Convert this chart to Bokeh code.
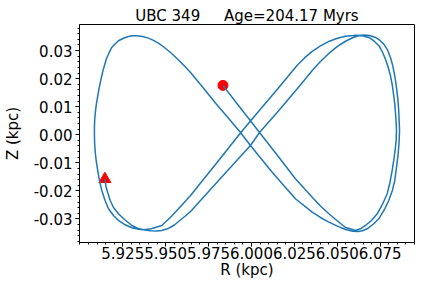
from bokeh.plotting import figure
from bokeh.models import FixedTicker, CustomJSTickFormatter, Range1d
from bokeh.embed import file_html
from bokeh.resources import INLINE

# Orbit path (R, Z in kpc), traced from the triangle (start) to the circle (end)
R = [5.9146, 5.9152, 5.9164, 5.9177, 5.9196, 5.9225, 5.9260, 5.9303, 5.9336, 5.9371,
     5.9411, 5.9446, 5.9477, 5.9516, 5.9551, 5.9586, 5.9615, 5.9645,
     5.9819, 5.9994, 6.0047, 6.0157, 6.0268, 6.0309, 6.0354, 6.0402, 6.0451, 6.0501,
     6.0548, 6.0589, 6.0624, 6.0654, 6.0688, 6.0723, 6.0749, 6.0771, 6.0793, 6.0810,
     6.0823, 6.0835, 6.0845, 6.0853, 6.0858, 6.0861, 6.0863, 6.0860, 6.0854, 6.0845,
     6.0835, 6.0821, 6.0800, 6.0775, 6.0742, 6.0711, 6.0674, 6.0647, 6.0624, 6.0589,
     6.0548, 6.0501, 6.0451, 6.0402, 6.0354, 6.0256,
     6.0122, 5.9994, 5.9936, 5.9860, 5.9790, 5.9715, 5.9645,
     5.9610, 5.9575, 5.9546, 5.9516, 5.9487, 5.9458, 5.9429, 5.9400, 5.9365, 5.9332,
     5.9307, 5.9283, 5.9254, 5.9225, 5.9205, 5.9186, 5.9170, 5.9155, 5.9145, 5.9135,
     5.9127, 5.9118, 5.9110, 5.9103, 5.9096, 5.9091, 5.9087, 5.9085, 5.9085, 5.9086,
     5.9089, 5.9095, 5.9104, 5.9114, 5.9128, 5.9147, 5.9167, 5.9196, 5.9225, 5.9264,
     5.9303, 5.9342, 5.9371,
     5.9417, 5.9477, 5.9526, 5.9575, 5.9645, 5.9790, 5.9936, 5.9994, 6.0140, 6.0268,
     6.0309, 6.0354, 6.0402, 6.0451, 6.0501, 6.0548, 6.0594, 6.0606, 6.0645, 6.0684,
     6.0714, 6.0742, 6.0763, 6.0781, 6.0797, 6.0810, 6.0821, 6.0829, 6.0835, 6.0839,
     6.0843, 6.0845, 6.0843, 6.0837, 6.0829, 6.0820, 6.0807, 6.0791, 6.0763, 6.0733,
     6.0699, 6.0664, 6.0635, 6.0606, 6.0594, 6.0548, 6.0501, 6.0451, 6.0402, 6.0354,
     6.0256,
     6.0152, 6.0047, 5.9994, 5.9913, 5.9834]
Z = [-0.0158, -0.01843, -0.02093, -0.02342, -0.02592, -0.02816, -0.03020, -0.03234, -0.03333, -0.03387,
     -0.03422, -0.03430, -0.03412, -0.03340, -0.03216, -0.03037, -0.02895, -0.02734,
     -0.01558, -0.00381, 0.00082, 0.00848, 0.01651, 0.01954, 0.02292, 0.02613, 0.02898, 0.03148,
     0.03333, 0.03458, 0.03529, 0.03558, 0.03540, 0.03469, 0.03362, 0.03230, 0.03023, 0.02756,
     0.02471, 0.02103, 0.01686, 0.01269, 0.00866, 0.00438, 0.00153, -0.00275, -0.00738, -0.01166,
     -0.01629, -0.01986, -0.02342, -0.02663, -0.02995, -0.03180, -0.03351, -0.03419, -0.03447, -0.03437,
     -0.03376, -0.03258, -0.03116, -0.02948, -0.02759, -0.02282,
     -0.01344, -0.00381, 0.00082, 0.00635, 0.01134, 0.01704, 0.02221,
     0.02453, 0.02667, 0.02834, 0.02995, 0.03137, 0.03266, 0.03362, 0.03444, 0.03504, 0.03529,
     0.03529, 0.03504, 0.03440, 0.03351, 0.03237, 0.03112, 0.02916, 0.02720, 0.02506, 0.02292,
     0.02078, 0.01829, 0.01579, 0.01330, 0.01080, 0.00831, 0.00581, 0.00296, 0.00011, -0.00275,
     -0.00560, -0.00916, -0.01273, -0.01629, -0.01986, -0.02342, -0.02638, -0.02877, -0.03055, -0.03209,
     -0.03315, -0.03369, -0.03387,
     -0.03348, -0.03234, -0.02959, -0.02638, -0.02164, -0.01059, 0.00064, 0.00492, 0.01544, 0.02488,
     0.02738, 0.02970, 0.03166, 0.03326, 0.03440, 0.03512, 0.03540, 0.03551, 0.03529, 0.03469,
     0.03344, 0.03173, 0.02952, 0.02695, 0.02399, 0.02103, 0.01758, 0.01390, 0.01098, 0.00795,
     0.00438, 0.00153, -0.00203, -0.00560, -0.00916, -0.01273, -0.01701, -0.02103, -0.02485, -0.02816,
     -0.03055, -0.03234, -0.03351, -0.03412, -0.03383, -0.03305, -0.03073, -0.02816, -0.02538, -0.02225,
     -0.01569,
     -0.00738, 0.00082, 0.00499, 0.01134, 0.0176]

start_R, start_Z = [R[0]], [Z[0]]
end_R, end_Z = [R[-1]], [Z[-1]]

x_ticks = [5.925, 5.950, 5.975, 6.000, 6.025, 6.050, 6.075]
y_ticks = [-0.03, -0.02, -0.01, 0.00, 0.01, 0.02, 0.03]
title = "UBC 349\u00a0\u00a0\u00a0\u00a0\u00a0Age=204.17 Myrs"

x_minor = [round(5.900 + 0.005 * i, 3) for i in range(40)]
y_minor = [round(-0.040 + 0.002 * i, 3) for i in range(41)]

FONT = "DejaVu Sans"

p = figure(width=418, height=288,
           x_range=Range1d(5.8998, 6.0950), y_range=Range1d(-0.0384, 0.0393),
           output_backend="svg", toolbar_location=None,
           min_border_left=79, min_border_right=4, min_border_top=24, min_border_bottom=46)

p.title.text = title
p.title.align = "center"
p.title.text_font = FONT
p.title.text_font_size = "15px"
p.title.text_font_style = "normal"
p.title.text_color = "black"
p.title.standoff = 0

p.xgrid.visible = False
p.ygrid.visible = False
p.outline_line_color = "black"
p.outline_line_alpha = 1.0
p.outline_line_width = 1
p.background_fill_color = "white"
p.border_fill_color = "white"

p.xaxis.ticker = FixedTicker(ticks=x_ticks, minor_ticks=x_minor)
p.yaxis.ticker = FixedTicker(ticks=y_ticks, minor_ticks=y_minor)
p.xaxis.formatter = CustomJSTickFormatter(code="return tick.toFixed(3);")
p.yaxis.formatter = CustomJSTickFormatter(code="return tick.toFixed(2);")
p.xaxis.axis_label = "R (kpc)"
p.yaxis.axis_label = "Z (kpc)"

for ax in (p.xaxis[0], p.yaxis[0]):
    ax.axis_label_text_font = FONT
    ax.axis_label_text_font_size = "15px"
    ax.axis_label_text_font_style = "normal"
    ax.axis_label_text_color = "black"
    ax.major_label_text_font = FONT
    ax.major_label_text_font_size = "15px"
    ax.major_label_text_color = "black"
    ax.axis_line_color = "black"
    ax.major_tick_line_color = "black"
    ax.minor_tick_line_color = "black"
    ax.major_tick_in = 0
    ax.major_tick_out = 4
    ax.minor_tick_in = 0
    ax.minor_tick_out = 2

p.xaxis.major_label_standoff = 0
p.xaxis.axis_label_standoff = -1
p.yaxis.major_label_standoff = 3
p.yaxis.axis_label_standoff = 9

p.scatter(start_R, start_Z, marker="triangle", size=12, color="red")
p.scatter(end_R, end_Z, marker="circle", size=10, color="red")
p.line(R, Z, line_color="#1f77b4", line_width=1.5)

open("out.html", "w").write(file_html(p, INLINE))
